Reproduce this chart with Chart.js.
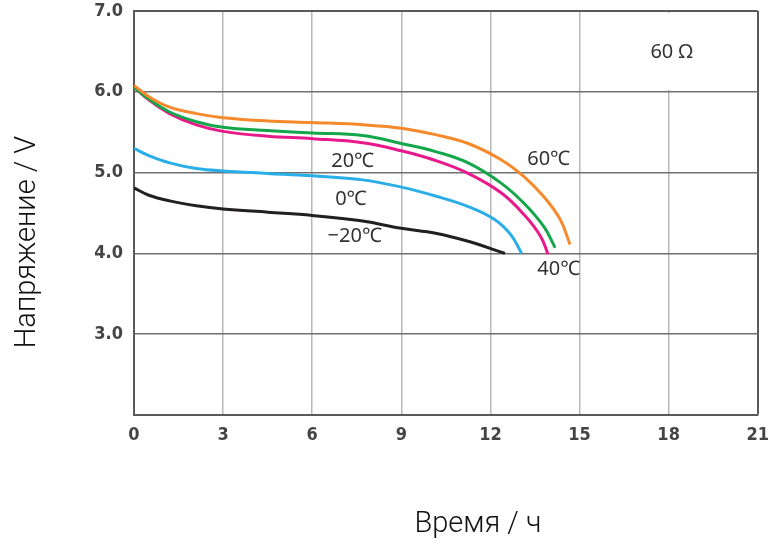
<!DOCTYPE html>
<html lang="ru">
<head>
<meta charset="UTF-8">
<title>Разрядные кривые, 60 Ω</title>
<script src="https://cdn.jsdelivr.net/npm/chart.js"></script>
<style>
  html, body { margin: 0; padding: 0; background: #fff; }
  #wrap { width: 779px; height: 542px; position: relative; }
</style>
</head>
<body>
<div id="wrap"><canvas id="chart"></canvas></div>
<script>
// время, ч  /  напряжение, V
const t60 = [0, 0.5, 1.2, 2.1, 3, 4.5, 6, 7.8, 9, 10.15, 11.25, 12.36, 13.13, 13.8, 14.35, 14.68];
const v60 = [6.08, 5.94, 5.81, 5.73, 5.68, 5.64, 5.62, 5.59, 5.55, 5.47, 5.36, 5.16, 4.95, 4.70, 4.42, 4.11];

const t40 = [0, 0.5, 1.2, 2.1, 3, 4.5, 6, 7.7, 9, 10.15, 11.25, 12.36, 13.13, 13.8, 14.18];
const v40 = [6.06, 5.91, 5.75, 5.63, 5.56, 5.52, 5.49, 5.46, 5.36, 5.26, 5.12, 4.87, 4.62, 4.33, 4.07];

const t20 = [0, 0.5, 1.2, 2.1, 3, 4.5, 6, 7.7, 9, 10.15, 11.25, 12.36, 13.13, 13.69, 13.94];
const v20 = [6.06, 5.90, 5.73, 5.59, 5.51, 5.45, 5.42, 5.37, 5.27, 5.15, 4.99, 4.75, 4.48, 4.21, 3.99];

const t0 = [0, 0.5, 1.2, 2.1, 3, 4.5, 6, 7.7, 9, 10.15, 11.25, 12.14, 12.69, 13.05];
const v0 = [5.30, 5.21, 5.12, 5.05, 5.02, 4.99, 4.96, 4.91, 4.82, 4.71, 4.58, 4.42, 4.23, 4.00];

const tm20 = [0, 0.5, 1.2, 2.1, 3, 4.5, 6, 7.7, 9, 10.15, 11.25, 12.49];
const vm20 = [4.81, 4.72, 4.65, 4.59, 4.55, 4.51, 4.47, 4.40, 4.31, 4.25, 4.15, 4.00];

const seriesNames = ['60℃', '40℃', '20℃', '0℃', '−20℃'];
const xTicks = [0, 3, 6, 9, 12, 15, 18, 21];
const yTicks = [2, 3, 4, 5, 6, 7];
const yTickLabels = ['', '3.0', '4.0', '5.0', '6.0', '7.0'];

// curve labels, placed in data units
const noteText = ['60℃', '20℃', '0℃', '−20℃', '40℃', '60 Ω'];
const noteX = [13.96, 7.36, 7.3, 7.43, 14.3, 18.1];
const noteY = [5.17, 5.14, 4.67, 4.21, 3.80, 6.49];

const colors = ['#f58a2c', '#14a64b', '#e8198b', '#29aee8', '#231f20'];
const tickFont = { family: "'DejaVu Sans Condensed', sans-serif", size: 18, weight: 'bold' };

function pts(ts, vs) {
  return ts.map((t, i) => ({ x: t, y: vs[i] }));
}

const allData = [pts(t60, v60), pts(t40, v40), pts(t20, v20), pts(t0, v0), pts(tm20, vm20)];

const extras = {
  id: 'extras',
  beforeDatasetsDraw(chart) {
    // the "60 Ω" box: no 18 h gridline above 6.0 V
    const { ctx, scales: { x, y } } = chart;
    const l = x.getPixelForValue(15) + 2, r = x.getPixelForValue(21) - 2;
    const tp = y.getPixelForValue(7) + 2, bt = y.getPixelForValue(6) - 2;
    ctx.save();
    ctx.fillStyle = '#fff';
    ctx.fillRect(l, tp, r - l, bt - tp);
    ctx.restore();
  },
  afterDatasetsDraw(chart) {
    const { ctx, scales: { x, y } } = chart;
    ctx.save();
    ctx.fillStyle = '#333';
    ctx.font = "20px 'Noto Sans', sans-serif";
    ctx.textAlign = 'center';
    ctx.textBaseline = 'middle';
    noteText.forEach((s, i) => {
      ctx.fillText(s, x.getPixelForValue(noteX[i]), y.getPixelForValue(noteY[i]));
    });
    ctx.restore();
  },
  afterDraw(chart) {
    const { ctx, chartArea: a } = chart;
    ctx.save();
    ctx.fillStyle = '#111';
    ctx.font = "300 29px Roboto, 'Liberation Sans', sans-serif";
    ctx.textAlign = 'center';
    ctx.textBaseline = 'middle';
    ctx.fillText('Время / ч', (a.left + a.right) / 2 + 32, a.bottom + 110);
    ctx.translate(a.left - 106, (a.top + a.bottom) / 2 + 29);
    ctx.rotate(-Math.PI / 2);
    ctx.fillText('Напряжение / V', 0, 0);
    ctx.restore();
  }
};

new Chart(document.getElementById('chart'), {
  type: 'line',
  data: {
    datasets: allData.map((d, i) => ({
      label: seriesNames[i],
      data: d,
      borderColor: colors[i],
      backgroundColor: colors[i],
      borderWidth: 3,
      pointRadius: 0,
      pointHoverRadius: 0,
      fill: false,
      tension: 0.4,
      borderCapStyle: 'butt'
    }))
  },
  options: {
    responsive: true,
    maintainAspectRatio: false,
    animation: false,
    events: [],
    layout: { padding: { top: 11, right: 9, left: 0, bottom: 0 } },
    plugins: { legend: { display: false }, tooltip: { enabled: false } },
    scales: {
      x: {
        type: 'linear',
        min: 0, max: 21,
        afterBuildTicks: s => { s.ticks = xTicks.map(v => ({ value: v })); },
        afterFit: s => { s.height = 127; },
        ticks: { color: '#444', font: tickFont, padding: 10, maxRotation: 0 },
        grid: {
          drawTicks: false,
          color: c => (c.tick && c.tick.value === 21) ? '#5a5a5a' : '#b8b8b8',
          lineWidth: c => (c.tick && c.tick.value === 21) ? 2 : 1.5
        },
        border: { color: '#5a5a5a', width: 2 }
      },
      y: {
        min: 2, max: 7,
        afterBuildTicks: s => { s.ticks = yTicks.map(v => ({ value: v })); },
        afterFit: s => { s.width = 134; s.paddingTop = 0; s.paddingBottom = 0; },
        ticks: {
          color: '#444', font: tickFont, padding: 11,
          callback: v => yTickLabels[yTicks.indexOf(v)]
        },
        grid: {
          drawTicks: false,
          color: c => (c.tick && c.tick.value === 7) ? '#5a5a5a' : '#707070',
          lineWidth: c => (c.tick && c.tick.value === 7) ? 2 : 1.5
        },
        border: { color: '#5a5a5a', width: 2 }
      }
    }
  },
  plugins: [extras]
});
</script>
</body>
</html>
